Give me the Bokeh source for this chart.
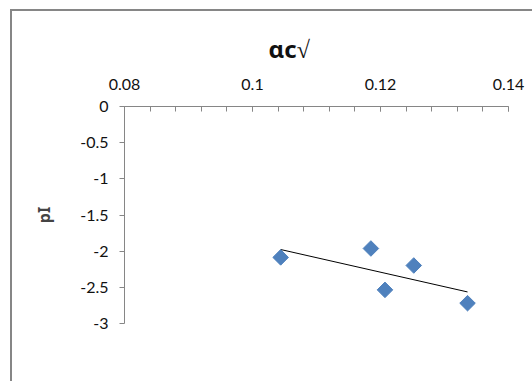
import numpy as np
from bokeh.plotting import figure
from bokeh.layouts import column
from bokeh.models import Range1d, LinearAxis, FixedTicker
from bokeh.embed import file_html
from bokeh.resources import INLINE

# ---- data ----
x_vals = [0.1044, 0.1185, 0.1207, 0.1252, 0.1336]
y_vals = [-2.086, -1.963, -2.535, -2.198, -2.719]

x_ticks = [0.08, 0.10, 0.12, 0.14]
x_tick_labels = ["0.08", "0.1", "0.12", "0.14"]
y_ticks = [0, -0.5, -1, -1.5, -2, -2.5, -3]
y_tick_labels = ["0", "-0.5", "-1", "-1.5", "-2", "-2.5", "-3"]

x_title = "αc√"
y_title = "pI"

AXIS_GRAY = "#868686"
BLUE = "#4F81BD"
TICK_FONT = "Lato"

p = figure(width=520, height=370, output_backend="svg", toolbar_location=None,
           x_axis_location=None, y_axis_location="left",
           x_range=Range1d(x_ticks[0], x_ticks[-1]),
           y_range=Range1d(y_ticks[-1], y_ticks[0]),
           min_border_left=112, min_border_right=24,
           min_border_top=95, min_border_bottom=58)
p.outline_line_color = None
p.background_fill_color = "white"
p.border_fill_color = "white"
p.xgrid.visible = False
p.ygrid.visible = False

# title (top, bold), shifted like the reference
p.title.text = x_title
p.title.text_font = "Noto Sans"
p.title.text_font_style = "bold"
p.title.text_font_size = "24px"
p.title.text_color = "#111111"
p.title.align = "left"
p.title.vertical_align = "top"
p.title.offset = 144
p.title.standoff = 18

# top x axis
minor = list(np.round(np.arange(x_ticks[0], x_ticks[-1] + 1e-9, 0.004), 4))
xax = LinearAxis(ticker=FixedTicker(ticks=x_ticks, minor_ticks=minor))
xax.major_label_overrides = {t: s for t, s in zip(x_ticks, x_tick_labels)}
xax.axis_line_color = AXIS_GRAY
xax.major_tick_line_color = AXIS_GRAY
xax.minor_tick_line_color = AXIS_GRAY
xax.major_tick_in = 5
xax.major_tick_out = 0
xax.minor_tick_in = 5
xax.minor_tick_out = 0
xax.major_label_standoff = 17
xax.major_label_text_font = TICK_FONT
xax.major_label_text_font_size = "16px"
xax.major_label_text_color = "#111111"
p.add_layout(xax, "above")

# left y axis
yax = p.yaxis[0]
yax.ticker = FixedTicker(ticks=y_ticks, minor_ticks=[])
yax.major_label_overrides = {t: s for t, s in zip(y_ticks, y_tick_labels)}
yax.axis_line_color = AXIS_GRAY
yax.major_tick_line_color = AXIS_GRAY
yax.minor_tick_line_color = None
yax.major_tick_in = 0
yax.major_tick_out = 5
yax.major_label_standoff = 11
yax.major_label_text_font = TICK_FONT
yax.major_label_text_font_size = "16px"
yax.major_label_text_color = "#111111"
yax.axis_label = y_title
yax.axis_label_text_font = "Noto Sans"
yax.axis_label_text_font_style = "bold"
yax.axis_label_text_font_size = "16px"
yax.axis_label_standoff = 22

# trend line (least squares)
k, b = np.polyfit(x_vals, y_vals, 1)
tx = [min(x_vals), max(x_vals)]
p.line(tx, [k * t + b for t in tx], line_color="black", line_width=1)

# diamonds
p.scatter(x_vals, y_vals, marker="square", angle=np.pi / 4, size=11,
          fill_color=BLUE, line_color=BLUE)

# chart-area border: left and top edges (the rest runs off the page)
layout = column(p, styles={"border-left": "2px solid #868686",
                           "border-top": "2px solid #868686",
                           "margin-left": "10px", "margin-top": "9px"})

open("out.html", "w").write(file_html(layout, INLINE))
